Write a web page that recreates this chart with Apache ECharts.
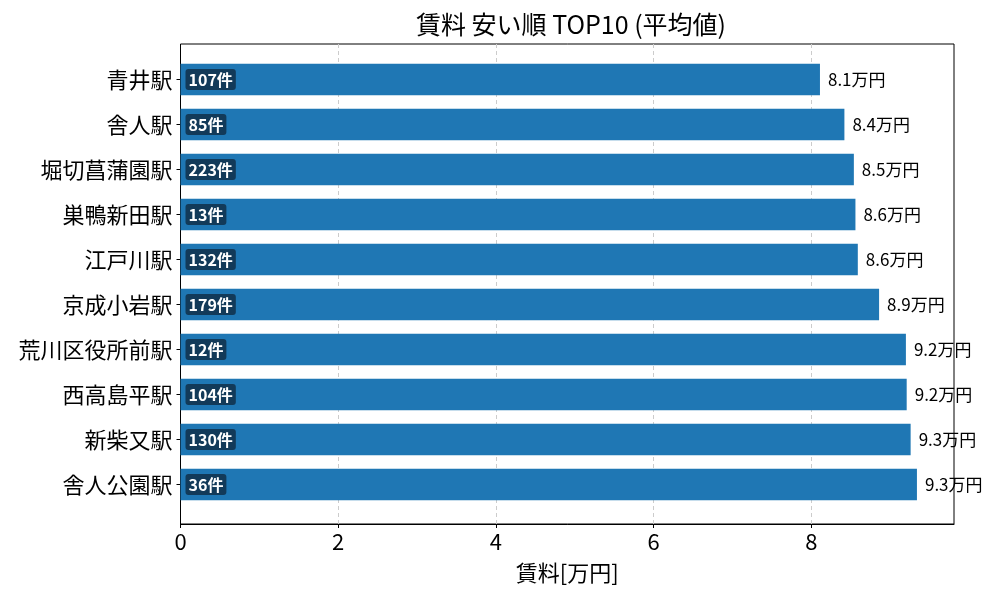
<!DOCTYPE html>
<html>
<head>
<meta charset="utf-8">
<script src="https://cdn.jsdelivr.net/npm/echarts@6/dist/echarts.min.js"></script>
<style>
    html, body { margin: 0; padding: 0; background: #fff; }
</style>
</head>
<body>
<div id="chartRent" style="width: 1000px; height: 600px"></div>
<script>
// 駅名 (上から順)
var stations = ['青井駅', '舎人駅', '堀切菖蒲園駅', '巣鴨新田駅', '江戸川駅', '京成小岩駅', '荒川区役所前駅', '西高島平駅', '新柴又駅', '舎人公園駅'];
// 平均賃料 [万円]
var rents = [8.11, 8.42, 8.54, 8.56, 8.59, 8.86, 9.20, 9.21, 9.26, 9.34];
// 物件数
var counts = [107, 85, 223, 13, 132, 179, 12, 104, 130, 36];
var xTicks = [0, 2, 4, 6, 8];

var font = '"Noto Sans CJK JP", "Noto Sans", sans-serif';
var xMax = 9.81;

var myChart = echarts.init(document.getElementById('chartRent'));
myChart.setOption({
    animation: false,
    textStyle: { fontFamily: font },
    title: {
        text: '賃料 安い順 TOP10 (平均値)',
        left: 566,
        textAlign: 'center',
        top: 7,
        textStyle: { fontFamily: font, fontSize: 25, fontWeight: 'normal', color: '#000' }
    },
    grid: [
        // 枠と目盛り
        { left: 180.5, right: 46, top: 44, bottom: 76, show: true, borderColor: '#000', borderWidth: 1, backgroundColor: 'transparent' },
        // 棒
        { left: 180.5, right: 46, top: 57, bottom: 93 }
    ],
    xAxis: [
        {
            gridIndex: 0,
            type: 'value',
            min: 0,
            max: xMax,
            interval: 2,
            name: '賃料[万円]',
            nameLocation: 'middle',
            nameGap: 38,
            nameTextStyle: { fontFamily: font, fontSize: 22, color: '#000' },
            axisLine: { show: true, lineStyle: { color: '#000' } },
            axisTick: { show: true, length: 4, lineStyle: { color: '#000' } },
            axisLabel: {
                fontFamily: font, fontSize: 22, color: '#000', margin: 7,
                showMaxLabel: false,
                formatter: function (v) { return xTicks.indexOf(v) >= 0 ? String(v) : ''; }
            },
            splitLine: {
                show: true,
                showMinLine: false,
                showMaxLine: false,
                lineStyle: { color: '#cccccc', type: [4, 3], width: 1 }
            }
        },
        {
            gridIndex: 1,
            type: 'value',
            min: 0,
            max: xMax,
            show: false
        }
    ],
    yAxis: [
        {
            gridIndex: 0,
            type: 'value',
            min: 0,
            max: 1,
            show: false
        },
        {
            gridIndex: 1,
            type: 'category',
            inverse: true,
            data: stations,
            axisLine: { show: false },
            axisTick: { show: true, alignWithLabel: true, length: 4, lineStyle: { color: '#000' } },
            axisLabel: { fontFamily: font, fontSize: 22, color: '#000', margin: 8 }
        }
    ],
    series: [
        {
            name: 'rent',
            type: 'bar',
            xAxisIndex: 1,
            yAxisIndex: 1,
            data: rents,
            barWidth: 31.5,
            itemStyle: { color: '#1f77b4' },
            label: {
                show: true,
                position: 'insideLeft',
                distance: 5,
                formatter: function (p) { return counts[p.dataIndex] + '件'; },
                fontFamily: font,
                fontSize: 16,
                fontWeight: 'bold',
                color: '#fff',
                backgroundColor: '#123a59',
                borderRadius: 3,
                padding: [3, 3, 2, 3]
            }
        },
        {
            name: 'rentLabel',
            type: 'bar',
            xAxisIndex: 1,
            yAxisIndex: 1,
            data: rents,
            barWidth: 31.5,
            barGap: '-100%',
            itemStyle: { color: 'transparent' },
            label: {
                show: true,
                position: 'right',
                distance: 8,
                formatter: function (p) { return p.value.toFixed(1) + '万円'; },
                fontFamily: font,
                fontSize: 17,
                color: '#000'
            }
        }
    ]
});
</script>
</body>
</html>
